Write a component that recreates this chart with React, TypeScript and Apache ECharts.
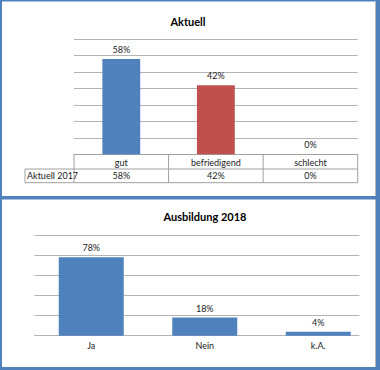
import React, { useEffect, useRef } from "react";
import * as echarts from "echarts";

const topCategories = ["gut", "befriedigend", "schlecht"];
const topValues = [58, 42, 0];
const topRowLabel = "Aktuell 2017";
const topTitle = "Aktuell";
const topColors = ["#4f81bd", "#c0504d", "#9bbb59"];

const bottomCategories = ["Ja", "Nein", "k.A."];
const bottomValues = [78, 18, 4];
const bottomTitle = "Ausbildung 2018";

const FONT = "Lato";
const TXT = "#1a1a1a";
const GRIDC = "#b4b4b4";
const TABLEC = "#a0a0a0";
const FRAME = "#4f81bd";

export default function App() {
  const ref = useRef<HTMLDivElement>(null);
  useEffect(() => {
    document.body.style.margin = "0";
    const chart = echarts.init(ref.current!, null, { renderer: "svg" });
    const tLeft = 74, tRight = 357.7, tTop = 39.3, tBottom = 154.3;
    const colW = (tRight - tLeft) / 3;
    const r1 = 169, r2 = 182.7, labelLeft = 25;
    const tableLines: any[] = [];
    const ln = (x1: number, y1: number, x2: number, y2: number) =>
      tableLines.push({ type: "line", shape: { x1, y1, x2, y2 }, style: { stroke: TABLEC, lineWidth: 1 }, silent: true });
    ln(labelLeft, r1, tRight, r1);
    ln(labelLeft, r2, tRight, r2);
    ln(labelLeft, r1, labelLeft, r2);
    for (let i = 0; i <= 3; i++) ln(tLeft + colW * i, tBottom, tLeft + colW * i, r2);

    const bLeft = 34.5, bTop = 235, bHeight = 100.7, bCatW = 113.5, bGridRight = 359;

    const option: any = {
      animation: false,
      backgroundColor: "#ffffff",
      grid: [
        { left: tLeft, top: tTop, width: tRight - tLeft, height: tBottom - tTop },
        { left: bLeft, top: bTop, width: bCatW * 3, height: bHeight },
      ],
      xAxis: [
        {
          type: "category", gridIndex: 0, data: topCategories,
          axisLine: { lineStyle: { color: TABLEC } }, axisTick: { show: false },
          axisLabel: { margin: 4, fontSize: 9, fontFamily: FONT, color: TXT },
        },
        {
          type: "category", gridIndex: 0, position: "bottom", offset: 13,
          data: topValues.map((v) => v + "%"),
          axisLine: { show: false }, axisTick: { show: false },
          axisLabel: { margin: 4, fontSize: 9, fontFamily: FONT, color: TXT },
        },
        {
          type: "category", gridIndex: 1, data: bottomCategories,
          axisLine: { lineStyle: { color: GRIDC } }, axisTick: { show: false },
          axisLabel: { margin: 5, fontSize: 9, fontFamily: FONT, color: TXT },
        },
      ],
      yAxis: [
        {
          type: "value", gridIndex: 0, min: 0, max: 70, interval: 10,
          axisLabel: { show: false }, axisLine: { show: false }, axisTick: { show: false },
          splitLine: { lineStyle: { color: GRIDC } },
        },
        {
          type: "value", gridIndex: 1, min: 0, max: 100, interval: 20,
          axisLabel: { show: false }, axisLine: { show: false }, axisTick: { show: false },
          splitLine: { lineStyle: { color: GRIDC } },
        },
      ],
      series: [
        {
          type: "bar", xAxisIndex: 0, yAxisIndex: 0, barWidth: "40%",
          data: topValues.map((v, i) => ({ value: v, itemStyle: { color: topColors[i] } })),
          label: { show: true, position: "top", distance: 5, formatter: "{c}%", fontSize: 9, fontFamily: FONT, color: TXT },
        },
        {
          type: "bar", xAxisIndex: 2, yAxisIndex: 1, barWidth: 65,
          data: bottomValues,
          itemStyle: { color: "#4f81bd" },
          label: { show: true, position: "top", distance: 5, formatter: "{c}%", fontSize: 9, fontFamily: FONT, color: TXT },
        },
      ],
      graphic: [
        ...tableLines,
        {
          type: "rect", z: 100, silent: true,
          shape: { x: bGridRight + 0.5, y: bTop - 2, width: 375 - bGridRight, height: bHeight + 4 },
          style: { fill: "#ffffff" },
        },
        {
          type: "text", x: 27, y: (r1 + r2) / 2,
          style: { text: topRowLabel, textAlign: "left", textVerticalAlign: "middle", font: `9px ${FONT}`, fill: TXT },
        },
        {
          type: "text", x: 188, y: 21,
          style: { text: topTitle, textAlign: "center", textVerticalAlign: "middle", font: `bold 11px ${FONT}`, fill: "#000" },
        },
        {
          type: "text", x: 205, y: 216.7,
          style: { text: bottomTitle, textAlign: "center", textVerticalAlign: "middle", font: `bold 11px ${FONT}`, fill: "#000" },
        },
        { type: "rect", z: 110, shape: { x: 0, y: 0, width: 2, height: 370 }, style: { fill: FRAME }, silent: true },
        { type: "rect", z: 110, shape: { x: 0, y: 0, width: 380, height: 1.5 }, style: { fill: FRAME }, silent: true },
        { type: "rect", z: 110, shape: { x: 376, y: 0, width: 4, height: 370 }, style: { fill: FRAME }, silent: true },
        { type: "rect", z: 110, shape: { x: 375, y: 1.5, width: 1, height: 365.5 }, style: { fill: "#b8b8b8" }, silent: true },
        { type: "rect", z: 110, shape: { x: 0, y: 196, width: 380, height: 3.5 }, style: { fill: FRAME }, silent: true },
        { type: "rect", z: 110, shape: { x: 0, y: 367, width: 380, height: 3 }, style: { fill: FRAME }, silent: true },
      ],
    };
    chart.setOption(option);
    return () => chart.dispose();
  }, []);
  return <div ref={ref} style={{ width: 380, height: 370 }} />;
}
